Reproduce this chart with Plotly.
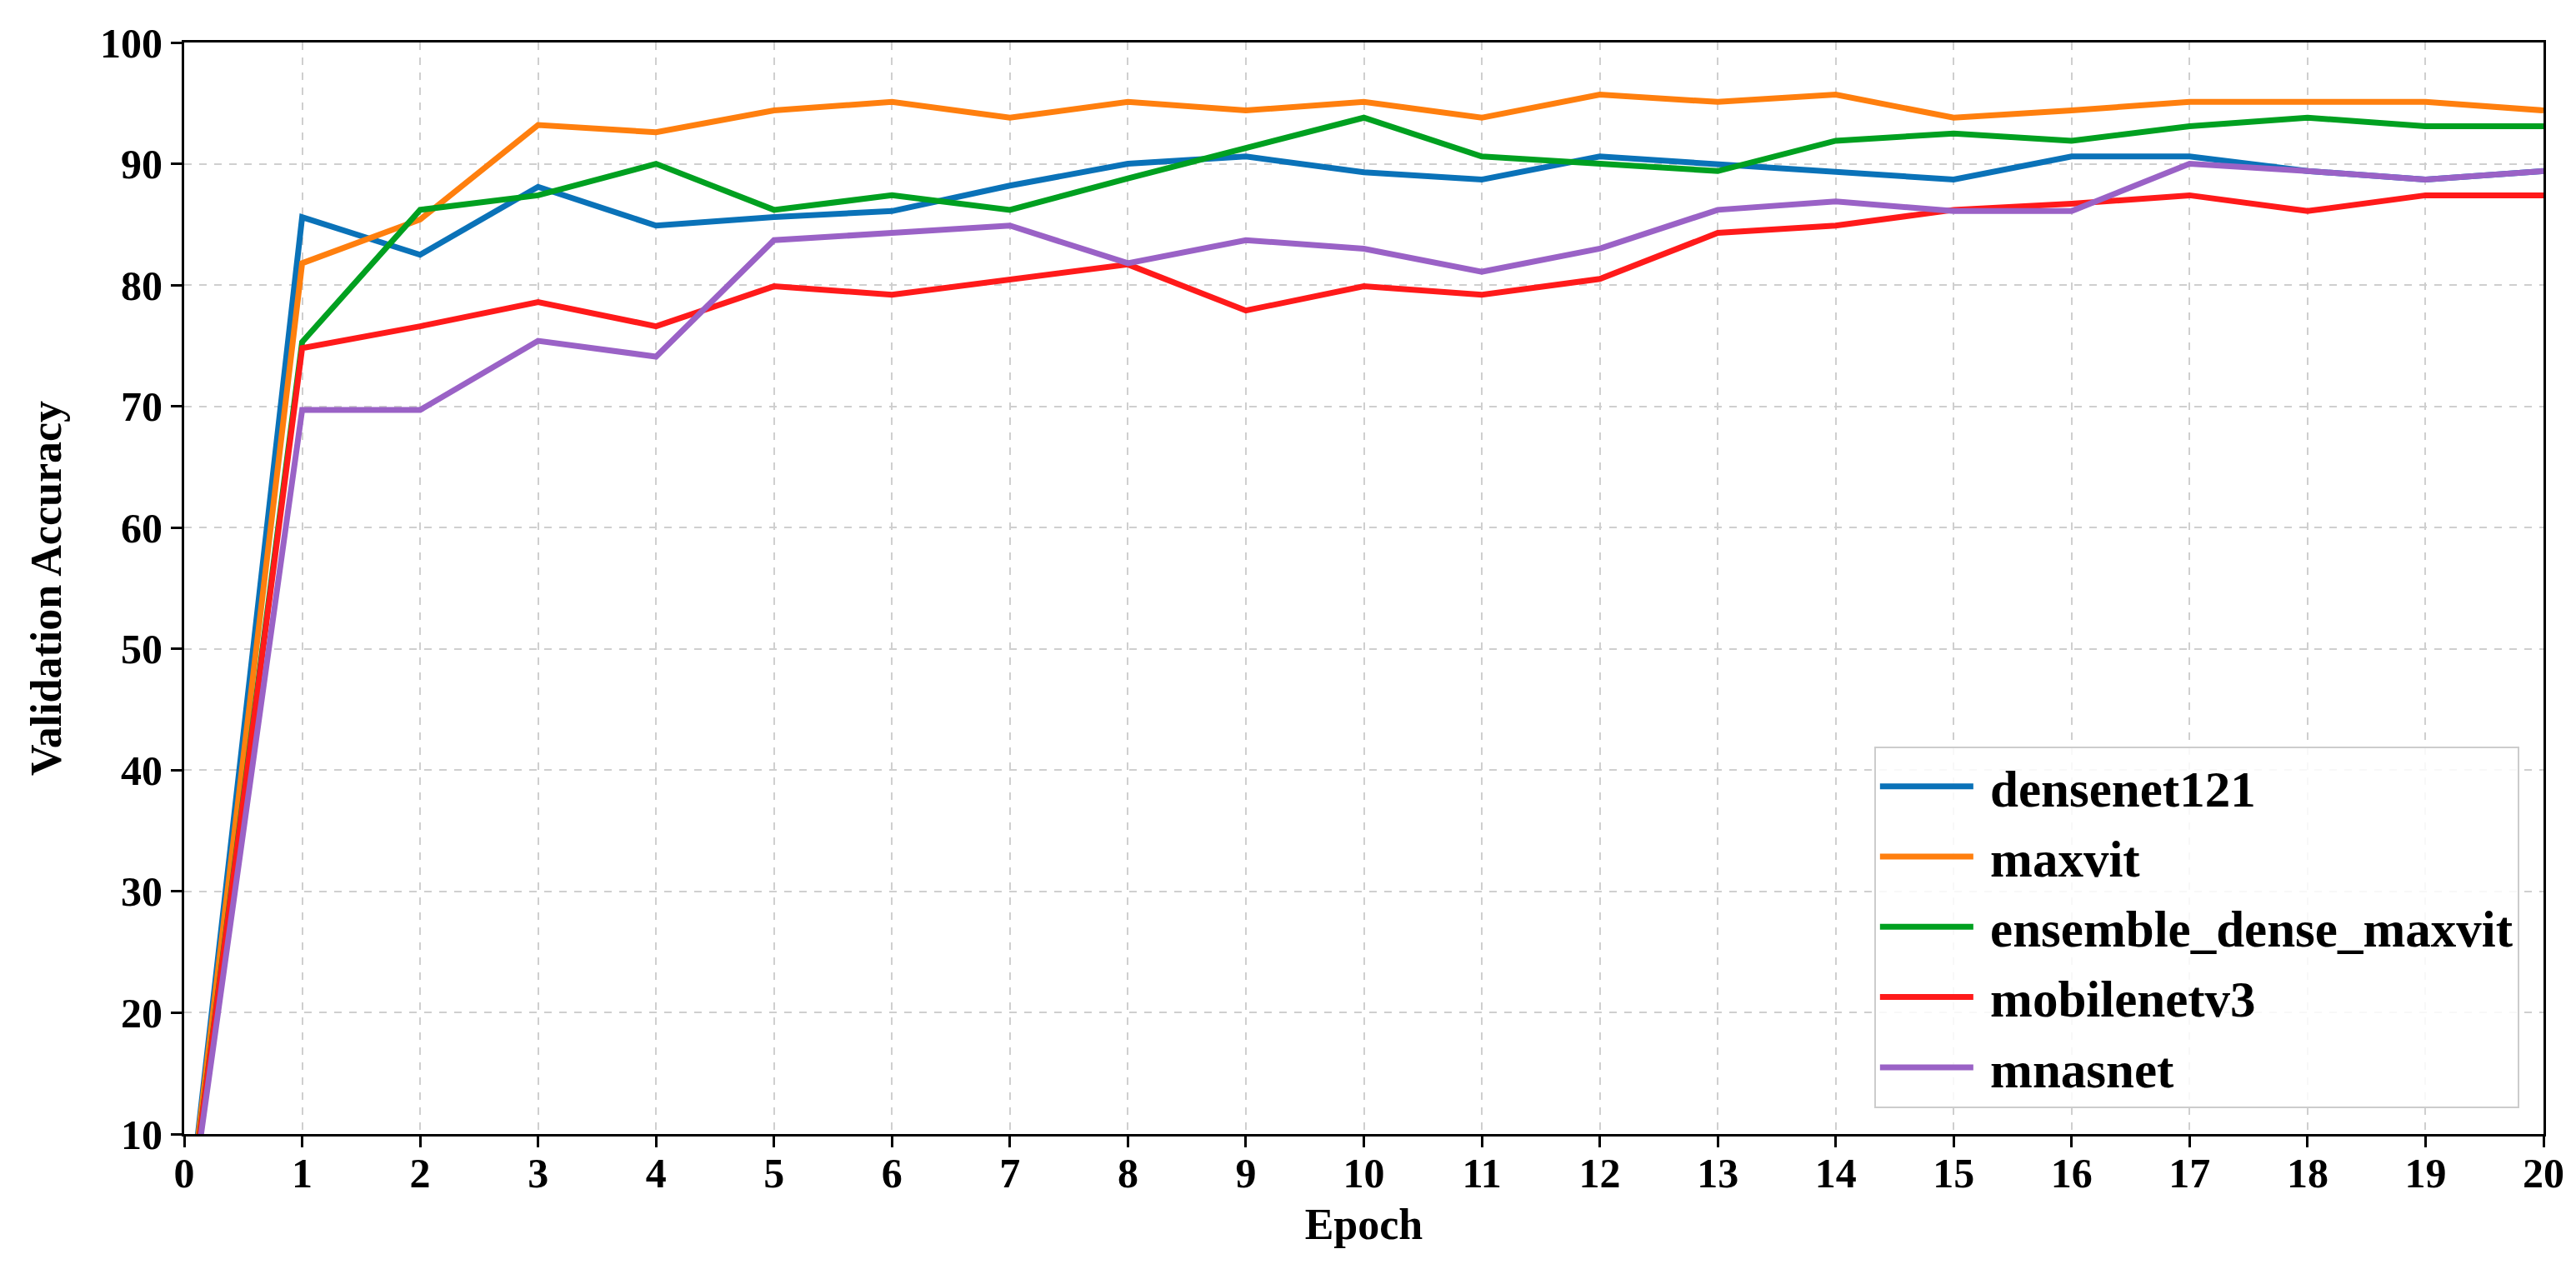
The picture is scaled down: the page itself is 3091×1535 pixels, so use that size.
import plotly.graph_objects as go

epochs = list(range(0, 21))

densenet121 = [0, 85.6, 82.5, 88.1, 84.9, 85.6, 86.1, 88.2, 90.0, 90.6, 89.3,
               88.7, 90.6, 90.0, 89.4, 88.7, 90.6, 90.6, 89.4, 88.7, 89.4]
maxvit = [0, 81.8, 85.4, 93.2, 92.6, 94.4, 95.1, 93.8, 95.1, 94.4, 95.1,
          93.8, 95.7, 95.1, 95.7, 93.8, 94.4, 95.1, 95.1, 95.1, 94.4]
ensemble_dense_maxvit = [0, 75.3, 86.2, 87.4, 90.0, 86.2, 87.4, 86.2, 88.8, 91.3, 93.8,
                         90.6, 90.0, 89.4, 91.9, 92.5, 91.9, 93.1, 93.8, 93.1, 93.1]
mobilenetv3 = [0, 74.8, 76.6, 78.6, 76.6, 79.9, 79.2, 80.5, 81.7, 77.9, 79.9,
               79.2, 80.5, 84.3, 84.9, 86.2, 86.7, 87.4, 86.1, 87.4, 87.4]
mnasnet = [0, 69.7, 69.7, 75.4, 74.1, 83.7, 84.3, 84.9, 81.8, 83.7, 83.0,
           81.1, 83.0, 86.2, 86.9, 86.1, 86.1, 90.0, 89.4, 88.7, 89.4]

series_names = ["densenet121", "maxvit", "ensemble_dense_maxvit", "mobilenetv3", "mnasnet"]
series_values = [densenet121, maxvit, ensemble_dense_maxvit, mobilenetv3, mnasnet]
series_colors = ["#0a72b8", "#ff7f0e", "#00a020", "#ff1a1a", "#9a62c6"]

y_ticks = list(range(10, 101, 10))
x_ticks = list(range(0, 21))

FONT = "Liberation Serif"

fig = go.Figure()
for name, vals, col in zip(series_names, series_values, series_colors):
    fig.add_trace(go.Scatter(
        x=epochs, y=vals, mode="lines", name="\u00a0" + name, legendgroup=name,
        line=dict(color=col, width=7),
    ))

axis_common = dict(
    showline=True, linecolor="black", linewidth=3, mirror=True,
    ticks="outside", ticklen=13, tickwidth=3, tickcolor="black",
    showgrid=True, gridcolor="#cfcfcf", gridwidth=2, griddash="dash",
    zeroline=False,
    tickfont=dict(family=FONT, size=50, color="black", weight="bold"),
)

fig.update_xaxes(
    range=[0, 20], tickvals=x_ticks, ticklabelstandoff=-12,
    title=dict(text="Epoch", font=dict(family=FONT, size=52, color="black", weight="bold"), standoff=16),
    **axis_common,
)
fig.update_yaxes(
    range=[10, 100], tickvals=y_ticks,
    title=dict(text="Validation Accuracy", font=dict(family=FONT, size=52, color="black", weight="bold"), standoff=30),
    **axis_common,
)

fig.update_layout(
    width=3091, height=1535,
    margin=dict(l=213, r=47, t=43, b=182),
    paper_bgcolor="white", plot_bgcolor="white",
    font=dict(family=FONT, color="black"),
    legend=dict(
        x=0.9897, y=0.024, xanchor="right", yanchor="bottom",
        bgcolor="rgba(255,255,255,0.85)", bordercolor="#cccccc", borderwidth=2,
        font=dict(family=FONT, size=61, color="black", weight="bold"),
        traceorder="grouped", tracegroupgap=2, itemwidth=112,
    ),
    showlegend=True,
)

fig.write_html("out.html")
